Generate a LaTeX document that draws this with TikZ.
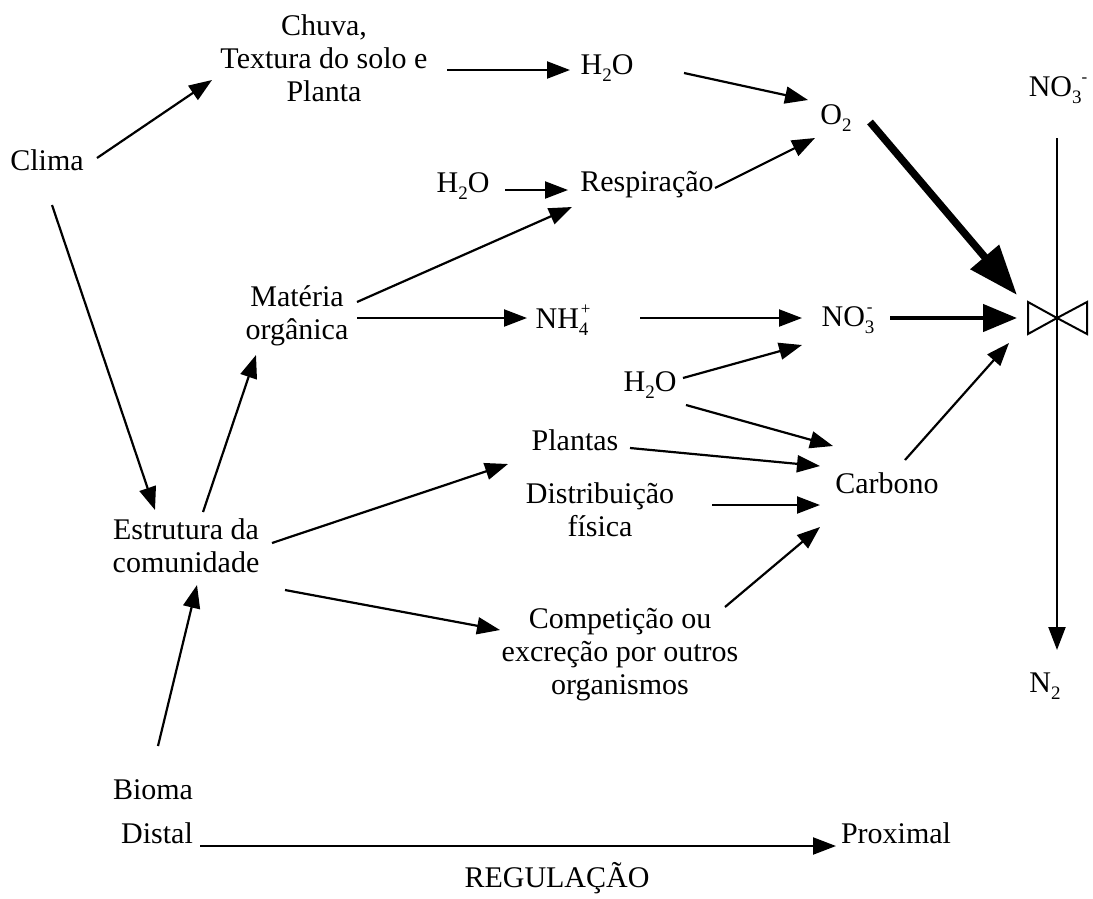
\documentclass[tikz,border=0pt]{standalone}
\usepackage{fontspec}
\setmainfont{Liberation Serif}
\usetikzlibrary{arrows.meta,calc}
\tikzset{
  lbl/.style={inner sep=0pt,align=center,font=\fontsize{30}{33}\selectfont},
  arr/.style={line width=2.2pt,-{Triangle[length=23pt,width=17pt]}},
  thickarr/.style={line width=4.5pt,-{Triangle[length=34pt,width=27pt]}},
  heavyarr/.style={line width=7.5pt,-{Triangle[length=50pt,width=36pt]}},
  valveline/.style={line width=2pt,line join=miter}
}
\newcommand{\chsub}[1]{\raisebox{-7pt}{\fontsize{19}{19}\selectfont #1}}
\newcommand{\chsup}[1]{\raisebox{14pt}{\fontsize{17}{17}\selectfont #1}}
\newcommand{\subsup}[2]{\rlap{\hspace{2pt}\chsup{#2}}\chsub{#1}}
\begin{document}
\begin{tikzpicture}[x=1pt,y=-1pt]
\useasboundingbox (0,0) rectangle (1093,898);
% nodes
\node[lbl] (clima) at (47,160) {Clima};
\node[lbl] (chuva) at (324,58) {Chuva,\\Textura do solo e\\Planta};
\node[lbl] (h2otop) at (607,68) {H\chsub{2}O};
\node[lbl] (o2) at (836,118) {O\chsub{2}};
\node[lbl] (no3top) at (1058,90) {NO\chsub{3}\chsup{-}};
\node[lbl] (h2omid) at (463,186) {H\chsub{2}O};
\node[lbl] (resp) at (647,185) {Respiração};
\node[lbl] (materia) at (297,316) {Matéria\\orgânica};
\node[lbl] (nh4) at (562,320) {NH\subsup{4}{+}};
\node[lbl] (no3mid) at (848,320) {NO\subsup{3}{-}};
\coordinate (valve) at (1057,318);
\node[lbl] (h2olow) at (650,385) {H\chsub{2}O};
\node[lbl] (plantas) at (575,440) {Plantas};
\node[lbl] (distrib) at (600,510) {Distribuição\\física};
\node[lbl] (carbono) at (887,483) {Carbono};
\node[lbl] (estrutura) at (186,546) {Estrutura da\\comunidade};
\node[lbl] (compet) at (620,655) {Competição ou\\excreção por outros\\organismos};
\node[lbl] (n2) at (1045,686) {N\chsub{2}};
\node[lbl] (bioma) at (153,790) {Bioma};
\node[lbl] (distal) at (157,833) {Distal};
\node[lbl] (proximal) at (896,833) {Proximal};
\node[lbl] (regul) at (557,878) {REGULAÇÃO};
% valve symbol
\draw[valveline] ($(valve)+(-29,-16)$) -- ($(valve)+(-29,16)$) -- (valve) -- cycle;
\draw[valveline] ($(valve)+(30,-16)$) -- ($(valve)+(30,16)$) -- (valve) -- cycle;
\draw[arr] (valve |- 0,138) -- (valve |- 0,650);
% connectors
\draw[arr] ($(clima)+(50,-2)$) -- ($(chuva)+(-112,22)$);
\draw[arr] ($(chuva)+(123,12)$) -- ($(h2otop)+(-37,2)$);
\draw[arr] ($(h2otop)+(77,5)$) -- ($(o2)+(-28,-18)$);
\draw[arr] ($(resp)+(68,3)$) -- ($(o2)+(-21,20)$);
\draw[arr] ($(h2omid)+(42,4)$) -- ($(resp)+(-79,5)$);
\draw[arr] ($(materia)+(60,-14)$) -- ($(resp)+(-75,22)$);
\draw[arr] ($(materia)+(60,2)$) -- ($(nh4)+(-35,-2)$);
\draw[arr] ($(nh4)+(78,-2)$) -- ($(no3mid)+(-46,-2)$);
\draw[thickarr] ($(no3mid)+(42,-2)$) -- ($(valve)+(-40,0)$);
\draw[heavyarr] ($(o2)+(34,4)$) -- ($(valve)+(-40,-23)$);
\draw[arr] ($(h2olow)+(33,-7)$) -- ($(no3mid)+(-46,25)$);
\draw[arr] ($(h2olow)+(36,20)$) -- ($(carbono)+(-54,-37)$);
\draw[arr] ($(plantas)+(55,8)$) -- ($(carbono)+(-67,-17)$);
\draw[arr] ($(distrib)+(112,-5)$) -- ($(carbono)+(-67,22)$);
\draw[arr] ($(compet)+(105,-48)$) -- ($(carbono)+(-67,44)$);
\draw[arr] ($(carbono)+(18,-23)$) -- ($(valve)+(-48,25)$);
\draw[arr] ($(clima)+(5,45)$) -- ($(estrutura)+(-31,-36)$);
\draw[arr] ($(estrutura)+(17,-34)$) -- ($(materia)+(-41,39)$);
\draw[arr] ($(estrutura)+(86,-3)$) -- ($(plantas)+(-67,24)$);
\draw[arr] ($(estrutura)+(99,44)$) -- ($(compet)+(-120,-25)$);
\draw[arr] ($(bioma)+(5,-44)$) -- ($(estrutura)+(11,39)$);
\draw[arr] ($(distal)+(43,13)$) -- ($(proximal)+(-60,13)$);
\end{tikzpicture}
\end{document}
